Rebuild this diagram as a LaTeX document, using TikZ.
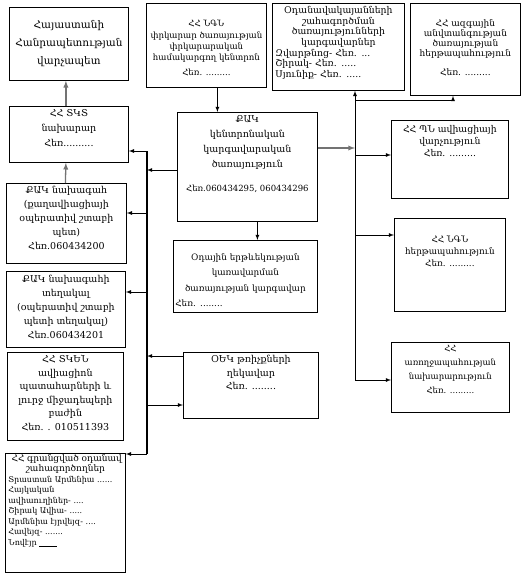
\documentclass[tikz,border=0pt]{standalone}
\usepackage{fontspec}
\setmainfont{DejaVu Serif}
\newcommand{\fsz}[2]{\fontsize{#1}{#2}\selectfont}

\begin{document}
\begin{tikzpicture}[x=1pt, y=-1pt,
  box/.style={draw, line width=0.8pt, anchor=north west, inner sep=0pt},
  txt/.style={align=center, anchor=north, inner sep=1pt},
  arr/.style={-latex, line width=0.8pt},
  garr/.style={-latex, line width=1.3pt, black!55},
  bus/.style={line width=2.6pt}]
  \useasboundingbox (0,0) rectangle (528,576);

  % top row
  \node[box, minimum width=119, minimum height=73,
    label={[txt, yshift=-12, font=\fsz{10.5}{18}]north:{Հայաստանի\\Հանրապետության\\վարչապետ}}] (pm) at (9,7) {};
  \node[box, minimum width=120, minimum height=84,
    label={[txt, yshift=-16, font=\fsz{8.6}{11.2}]north:{ՀՀ ՆԳՆ\\փրկարար ծառայության\\փրկարարական\\համակարգող կենտրոն\\[4pt]Հեռ. .........}}] (ncs) at (146,3) {};
  \node[box, minimum width=132, minimum height=87,
    label={[txt, align=left, text width=126, yshift=-2, font=\fsz{9.3}{10.7}]north:{{\centering Օդանավակայանների\\շահագործման\\ծառայությունների\\կարգավարներ\endgraf}Զվարթնոց- Հեռ. ...\\Շիրակ- Հեռ. .....\\Սյունիք- Հեռ. .....}}] (airports) at (272,3) {};
  \node[box, minimum width=110, minimum height=92,
    label={[txt, yshift=-15, font=\fsz{9}{10}]north:{ՀՀ ազգային\\անվտանգության\\ծառայության\\հերթապահություն\\[9pt]Հեռ. .........}}] (nss) at (410,3) {};

  % left column
  \node[box, minimum width=119, minimum height=56,
    label={[txt, yshift=-2, font=\fsz{9.5}{15}]north:{ՀՀ ՏԿՏ\\նախարար\\Հեռ..........}}] (mtad) at (9,106) {};
  \node[box, minimum width=120, minimum height=80,
    label={[txt, yshift=-2, font=\fsz{9.5}{14}]north:{ՔԱԿ նախագահ\\(քաղավիացիայի\\օպերատիվ շտաբի\\պետ)\\Հեռ.060434200}}] (cacpres) at (6,183) {};
  \node[box, minimum width=119, minimum height=76,
    label={[txt, yshift=-3, font=\fsz{9.5}{14}]north:{ՔԱԿ նախագահի\\տեղակալ\\(օպերատիվ շտաբի\\պետի տեղակալ)\\Հեռ.060434201}}] (cacdep) at (6,271) {};
  \node[box, minimum width=116, minimum height=88,
    label={[txt, yshift=-2, font=\fsz{9.5}{13.5}]north:{ՀՀ ՏԿԵՆ\\ավիացիոն\\պատահարների և\\լուրջ միջադեպերի\\բաժին\\Հեռ. . 010511393}}] (aib) at (7,352) {};
  \node[box, minimum width=120, minimum height=119,
    label={[txt, align=left, text width=114, yshift=0, font=\fsz{8}{10.5}]north:{{\centering\fsz{9}{10.5} ՀՀ գրանցված օդանավ\\շահագործողներ\endgraf}Տրաստան Արմենիա ......\\Հայկական\\ավիաուղիներ- ....\\Շիրակ Ավիա- .....\\Արմենիա էյրվեյզ- ....\\Հավեյզ- .......\\Նովէյր \underline{\hspace{18pt}}}}] (ops) at (5,453) {};

  % middle column
  \node[box, minimum width=140, minimum height=109,
    label={[txt, yshift=-2, font=\fsz{9.5}{15}]north:{ՔԱԿ\\կենտրոնական\\կարգավարական\\ծառայություն\\[9pt]{\fsz{8.5}{15}Հեռ.060434295, 060434296}}}] (cac) at (177,112) {};
  \node[box, minimum width=144, minimum height=72,
    label={[txt, align=left, text width=140, yshift=-12, font=\fsz{8.8}{15.5}]north:{{\centering Օդային երթևեկության\\կառավարման\\ծառայության կարգավար\endgraf}Հեռ. ........}}] (atc) at (173,240) {};
  \node[box, minimum width=135, minimum height=66,
    label={[txt, yshift=-2, font=\fsz{9.5}{13.5}]north:{ՕԵԿ թռիչքների\\ղեկավար\\Հեռ. ........}}] (fd) at (183,352) {};

  % right column
  \node[box, minimum width=117, minimum height=78,
    label={[txt, yshift=-4, font=\fsz{9.3}{12}]north:{ՀՀ ՊՆ ավիացիայի\\վարչություն\\Հեռ. .........}}] (mod) at (391,120) {};
  \node[box, minimum width=111, minimum height=93,
    label={[txt, yshift=-16, font=\fsz{8.8}{12}]north:{ՀՀ ՆԳՆ\\հերթապահություն\\Հեռ. .........}}] (mes) at (394,218) {};
  \node[box, minimum width=118, minimum height=70,
    label={[txt, yshift=-2, font=\fsz{8.5}{14}]north:{ՀՀ\\առողջապահության\\նախարարություն\\Հեռ. .........}}] (moh) at (391,342) {};

  % bus points
  \coordinate (l1) at (147,151);
  \coordinate (l0) at (147,170);
  \coordinate (l2) at (147,213);
  \coordinate (l3) at (147,292);
  \coordinate (l4) at (147,356);
  \coordinate (l5) at (147,405);
  \coordinate (lbot) at (147,454);
  \coordinate (rtop) at (355,100);
  \coordinate (r0) at (355,148);
  \coordinate (r1) at (355,155);
  \coordinate (r2) at (355,235);
  \coordinate (rbot) at (355,380);
  \coordinate (njoin) at (453,100);

  % left bus
  \draw[bus] (l1) -- (lbot);
  \draw[arr] (l1) -- (l1 -| mtad.east);
  \draw[arr] (l2) -- (l2 -| cacpres.east);
  \draw[arr] (l3) -- (l3 -| cacdep.east);
  \draw[arr] (lbot) -- (lbot -| ops.east);
  \draw[arr] (l0 -| cac.west) -- (l0);
  \draw[arr] (l4 -| fd.west) -- (l4);
  \draw[arr] (l5) -- (l5 -| fd.west);

  % upward chain
  \draw[garr] ([xshift=-3]mtad.north) -- ([xshift=-3]pm.south);
  \draw[garr] ([xshift=-1]cacpres.north) -- ([xshift=-3]mtad.south);

  % down the middle
  \draw[arr] ([xshift=11]ncs.south) -- ([xshift=-30]cac.north);
  \draw[arr] ([xshift=10]cac.south) -- ([xshift=12]atc.north);

  % right bus
  \draw[garr] (r0 -| cac.east) -- (r0);
  \draw[line width=0.8pt] (rtop) -- (rbot);
  \draw[line width=0.8pt] (rtop) -- (njoin);
  \draw[arr] (rtop) -- (rtop |- airports.south);
  \draw[arr] (njoin) -- (njoin |- nss.south);
  \draw[arr] (r1) -- (r1 -| mod.west);
  \draw[arr] (r2) -- (r2 -| mes.west);
  \draw[arr] (rbot) -- (rbot -| moh.west);
\end{tikzpicture}
\end{document}
